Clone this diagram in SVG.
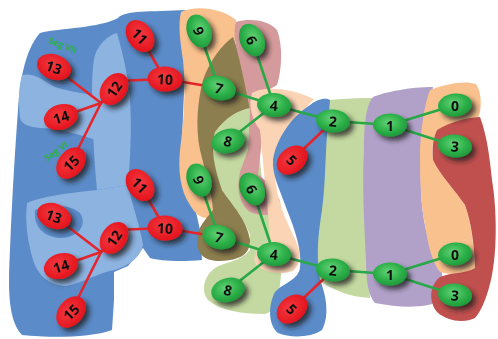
<svg xmlns="http://www.w3.org/2000/svg" width="498" height="339" viewBox="0 0 498 339">
  <defs>
    <radialGradient id="gGreen" cx="45%" cy="40%" r="60%">
      <stop offset="0" stop-color="#66d277"/>
      <stop offset="0.6" stop-color="#2fb24b"/>
      <stop offset="1" stop-color="#1f9a3b"/>
    </radialGradient>
    <radialGradient id="gRed" cx="45%" cy="40%" r="60%">
      <stop offset="0" stop-color="#f4393f"/>
      <stop offset="1" stop-color="#e3131c"/>
    </radialGradient>
    <filter id="shadow" x="-50%" y="-50%" width="220%" height="220%">
      <feGaussianBlur in="SourceAlpha" stdDeviation="2.6"/>
      <feOffset dx="4" dy="4" result="b"/>
      <feFlood flood-color="#1e1e1e" flood-opacity="0.75"/>
      <feComposite in2="b" operator="in"/>
      <feMerge><feMergeNode/><feMergeNode in="SourceGraphic"/></feMerge>
    </filter>
    <style>
      .red { fill: url(#gRed); }
      .grn { fill: url(#gGreen); }
      .node { filter: url(#shadow); }
      .lbl { font-family: "Open Sans", "Liberation Sans", sans-serif; font-weight: bold; font-size: 14px; fill: #111; text-anchor: middle; dominant-baseline: central; }
      .seg { font-family: "Open Sans", "Liberation Sans", sans-serif; font-weight: bold; font-size: 9px; fill: #2bb04a; text-anchor: middle; dominant-baseline: central; }
      .er { stroke: #e5252b; stroke-width: 2.6; fill: none; stroke-linecap: round; }
      .eg { stroke: #28a847; stroke-width: 2.6; fill: none; stroke-linecap: round; }
    </style>
  </defs>

  <rect width="498" height="339" fill="#ffffff"/>

  <!-- segment regions -->
  <g id="regions">
    <!-- blue lobe (left) -->
    <path fill="#5b8bc8" d="M40,33 C60,28 100,28 118,18 C125,10 150,12 186,10 L188,30 C186,60 183,100 182,150 L186,165 C190,190 196,210 200,230 L202,260 C180,262 160,261 150,258 L143,248 L128,266 L114,272 L114,300 L112,330 C90,338 50,338 22,335 C8,320 8,290 10,250 C12,200 15,150 18,110 C20,80 25,50 40,33 Z"/>
    <!-- lighter blue sub-regions -->
    <path fill="#8db3e1" d="M22,75 C35,72 45,82 55,87 C70,92 85,93 95,96 L96,140 C80,135 60,128 40,128 C30,127 22,125 20,118 C18,100 19,85 22,75 Z"/>
    <path fill="#8db3e1" d="M95,55 C98,45 108,35 117,33 C122,50 128,75 130,100 C132,130 130,160 128,185 L97,190 C94,160 92,120 92,90 C92,75 93,62 95,55 Z"/>
    <path fill="#8db3e1" d="M27,203 C45,195 80,192 97,190 L128,185 C132,205 140,225 143,245 C140,258 130,265 115,270 C100,272 85,282 67,286 C50,286 38,276 33,260 C27,240 25,220 27,203 Z"/>
    <path fill="#5b8bc8" d="M35,210 C50,203 72,205 80,213 C88,225 78,238 60,238 C45,237 33,228 35,210 Z"/>

    <!-- peach band -->
    <path fill="#f9c18d" d="M181,12 C195,5 222,8 236,20 L236,40 C220,55 205,80 200,100 C196,125 200,150 215,170 L220,212 C210,220 200,222 190,205 C180,190 178,170 180,150 C184,120 186,90 183,60 C180,40 178,25 181,12 Z"/>
    <!-- light green -->
    <path fill="#c4d9a1" d="M215,130 C225,115 240,108 252,107 L258,140 L262,180 L280,200 C285,230 283,260 280,285 C278,300 275,312 265,314 C240,314 220,310 208,300 C200,290 205,275 215,268 C225,262 240,262 250,250 L250,235 C245,220 232,205 222,190 C214,170 210,150 215,130 Z"/>
    <!-- olive -->
    <path fill="#8c7e4e" d="M233,37 C240,55 244,75 248,95 L250,108 C238,110 225,118 215,132 C210,150 215,170 222,190 C232,205 247,220 250,240 C250,255 240,260 220,261 C205,261 197,255 197,240 C197,228 205,220 213,210 C212,195 205,170 200,150 C195,125 198,100 203,80 C210,60 222,45 233,37 Z"/>
    <!-- pink -->
    <path fill="#d59a9b" d="M236,22 C250,18 268,20 277,30 C283,45 282,70 277,85 L265,92 L258,110 L262,140 L258,175 C265,180 278,190 280,205 C278,215 265,218 250,212 C240,205 236,190 240,172 L248,150 L250,110 C246,90 242,70 237,50 C234,38 234,28 236,22 Z"/>
    <!-- light peach -->
    <path fill="#fbd4b5" d="M252,93 C262,86 290,87 314,99 L302,112 C288,125 278,145 275,165 C274,190 281,210 293,235 C301,250 303,262 293,271 C280,275 262,273 255,263 C252,253 262,245 270,240 L267,200 C264,175 262,150 260,130 C252,120 248,105 252,93 Z"/>
    <!-- light green band -->
    <path fill="#c4d9a1" d="M312,103 C335,98 360,98 378,98 L368,130 L366,200 L370,298 C350,297 332,290 315,278 L318,200 Z"/>
    <!-- blue band -->
    <path fill="#5b8bc8" d="M310,105 C316,100 325,97 330,100 L328,125 C325,150 326,180 322,210 C318,235 316,255 320,280 C326,295 330,315 322,330 C310,338 290,338 278,333 C268,325 268,305 275,292 C285,282 298,280 300,268 C302,250 295,230 287,210 C280,190 272,175 273,160 C276,140 290,118 310,105 Z"/>
    <!-- purple -->
    <path fill="#b1a1c9" d="M373,97 C385,92 410,87 433,87 L427,120 C422,140 420,160 421,190 C422,220 428,245 440,265 C445,280 442,298 438,302 C425,308 400,308 375,303 C368,295 366,280 366,260 C364,220 362,180 364,150 C364,125 366,105 373,97 Z"/>
    <!-- peach right -->
    <path fill="#f9c18d" d="M430,90 C445,84 465,80 476,84 C482,92 482,110 478,118 L460,122 L437,130 C432,140 432,150 433,160 C440,175 455,190 465,205 C472,225 474,250 475,268 C465,275 450,275 440,272 C432,262 428,245 425,225 C420,200 420,170 420,150 C421,130 424,105 430,90 Z"/>
    <!-- dark red -->
    <path fill="#c0504e" d="M437,130 C450,122 465,118 480,117 C487,135 490,160 492,180 C497,210 497,250 492,275 C488,295 482,310 475,318 C465,323 448,322 437,312 C428,300 430,285 440,277 C452,272 465,274 475,268 C474,245 472,225 465,205 C455,190 440,175 433,160 C432,148 433,138 437,130 Z"/>

    <text class="seg" transform="translate(63,45) rotate(22)">Seg VII</text>
    <text class="seg" transform="translate(56,151) rotate(-35)">Seg VI</text>
  </g>

  <!-- connectors -->
  <g id="connectors">
    <!-- upper tree -->
    <line class="er" x1="165" y1="79" x2="140" y2="36"/>
    <line class="er" x1="165" y1="79" x2="116" y2="81"/>
    <line class="er" x1="101" y1="103" x2="54" y2="67"/>
    <line class="er" x1="101" y1="103" x2="61" y2="117"/>
    <line class="er" x1="101" y1="103" x2="71" y2="163"/>
    <line class="er" x1="101" y1="103" x2="114" y2="89"/>
    <line class="er" x1="165" y1="79" x2="219" y2="88"/>
    <line class="eg" x1="219" y1="88" x2="199" y2="31"/>
    <line class="eg" x1="219" y1="88" x2="274" y2="105"/>
    <line class="eg" x1="274" y1="105" x2="252" y2="40"/>
    <line class="eg" x1="274" y1="105" x2="228" y2="141"/>
    <line class="eg" x1="274" y1="105" x2="333" y2="121"/>
    <line class="er" x1="333" y1="121" x2="292" y2="160"/>
    <line class="eg" x1="333" y1="121" x2="390" y2="125"/>
    <line class="eg" x1="390" y1="125" x2="455" y2="105"/>
    <line class="eg" x1="390" y1="125" x2="455" y2="146"/>
    <!-- lower tree -->
    <line class="er" x1="165" y1="228" x2="140" y2="185"/>
    <line class="er" x1="165" y1="228" x2="116" y2="230"/>
    <line class="er" x1="101" y1="252" x2="54" y2="216"/>
    <line class="er" x1="101" y1="252" x2="61" y2="266"/>
    <line class="er" x1="101" y1="252" x2="71" y2="312"/>
    <line class="er" x1="101" y1="252" x2="114" y2="238"/>
    <line class="er" x1="165" y1="228" x2="219" y2="237"/>
    <line class="eg" x1="219" y1="237" x2="199" y2="180"/>
    <line class="eg" x1="219" y1="237" x2="274" y2="254"/>
    <line class="eg" x1="274" y1="254" x2="252" y2="189"/>
    <line class="eg" x1="274" y1="254" x2="228" y2="290"/>
    <line class="eg" x1="274" y1="254" x2="333" y2="270"/>
    <line class="er" x1="333" y1="270" x2="292" y2="309"/>
    <line class="eg" x1="333" y1="270" x2="390" y2="274"/>
    <line class="eg" x1="390" y1="274" x2="455" y2="254"/>
    <line class="eg" x1="390" y1="274" x2="455" y2="295"/>
  </g>

  <!-- upper tree nodes -->
  <g id="a11" class="node" transform="translate(140,36)"><ellipse class="red" rx="17.5" ry="12.5" transform="rotate(55)"/><text class="lbl" transform="rotate(45)">11</text></g>
  <g id="a13" class="node" transform="translate(54,67)"><ellipse class="red" rx="17.5" ry="12.5" transform="rotate(20)"/><text class="lbl" transform="rotate(20)">13</text></g>
  <g id="a12" class="node" transform="translate(114,89)"><ellipse class="red" rx="17.5" ry="12.5" transform="rotate(-55)"/><text class="lbl" transform="rotate(-55)">12</text></g>
  <g id="a10" class="node" transform="translate(165,79)"><ellipse class="red" rx="17.5" ry="12.5" transform="rotate(3)"/><text class="lbl" transform="rotate(3)">10</text></g>
  <g id="a14" class="node" transform="translate(61,117)"><ellipse class="red" rx="17.5" ry="12.5" transform="rotate(-18)"/><text class="lbl" transform="rotate(-18)">14</text></g>
  <g id="a15" class="node" transform="translate(71,163)"><ellipse class="red" rx="17.5" ry="12.5" transform="rotate(-50)"/><text class="lbl" transform="rotate(-45)">15</text></g>
  <g id="a9" class="node" transform="translate(199,31)"><ellipse class="grn" rx="17" ry="12" transform="rotate(70)"/><text class="lbl" transform="rotate(70)">9</text></g>
  <g id="a6" class="node" transform="translate(252,40)"><ellipse class="grn" rx="17" ry="12" transform="rotate(65)"/><text class="lbl" transform="rotate(65)">6</text></g>
  <g id="a7" class="node" transform="translate(219,88)"><ellipse class="grn" rx="17" ry="12" transform="rotate(15)"/><text class="lbl" transform="rotate(15)">7</text></g>
  <g id="a4" class="node" transform="translate(274,105)"><ellipse class="grn" rx="17" ry="12" transform="rotate(5)"/><text class="lbl" transform="rotate(5)">4</text></g>
  <g id="a8" class="node" transform="translate(228,141)"><ellipse class="grn" rx="17" ry="12" transform="rotate(-15)"/><text class="lbl" transform="rotate(15)">8</text></g>
  <g id="a5" class="node" transform="translate(292,160)"><ellipse class="red" rx="17" ry="12.5" transform="rotate(-40)"/><text class="lbl" transform="rotate(45)">5</text></g>
  <g id="a2" class="node" transform="translate(333,121)"><ellipse class="grn" rx="17" ry="11.5" transform="rotate(5)"/><text class="lbl" transform="rotate(5)">2</text></g>
  <g id="a1" class="node" transform="translate(390,125)"><ellipse class="grn" rx="17" ry="11.5"/><text class="lbl">1</text></g>
  <g id="a0" class="node" transform="translate(455,105)"><ellipse class="grn" rx="17" ry="11.5" transform="rotate(-5)"/><text class="lbl">0</text></g>
  <g id="a3" class="node" transform="translate(455,146)"><ellipse class="grn" rx="17" ry="11.5" transform="rotate(5)"/><text class="lbl" transform="rotate(5)">3</text></g>

  <!-- lower tree nodes -->
  <g id="b11" class="node" transform="translate(140,185)"><ellipse class="red" rx="17.5" ry="12.5" transform="rotate(55)"/><text class="lbl" transform="rotate(45)">11</text></g>
  <g id="b13" class="node" transform="translate(54,216)"><ellipse class="red" rx="17.5" ry="12.5" transform="rotate(20)"/><text class="lbl" transform="rotate(20)">13</text></g>
  <g id="b12" class="node" transform="translate(114,238)"><ellipse class="red" rx="17.5" ry="12.5" transform="rotate(-55)"/><text class="lbl" transform="rotate(-55)">12</text></g>
  <g id="b10" class="node" transform="translate(165,228)"><ellipse class="red" rx="17.5" ry="12.5" transform="rotate(3)"/><text class="lbl" transform="rotate(3)">10</text></g>
  <g id="b14" class="node" transform="translate(61,266)"><ellipse class="red" rx="17.5" ry="12.5" transform="rotate(-18)"/><text class="lbl" transform="rotate(-18)">14</text></g>
  <g id="b15" class="node" transform="translate(71,312)"><ellipse class="red" rx="17.5" ry="12.5" transform="rotate(-50)"/><text class="lbl" transform="rotate(-45)">15</text></g>
  <g id="b9" class="node" transform="translate(199,180)"><ellipse class="grn" rx="17" ry="12" transform="rotate(70)"/><text class="lbl" transform="rotate(70)">9</text></g>
  <g id="b6" class="node" transform="translate(252,189)"><ellipse class="grn" rx="17" ry="12" transform="rotate(65)"/><text class="lbl" transform="rotate(65)">6</text></g>
  <g id="b7" class="node" transform="translate(219,237)"><ellipse class="grn" rx="17" ry="12" transform="rotate(15)"/><text class="lbl" transform="rotate(15)">7</text></g>
  <g id="b4" class="node" transform="translate(274,254)"><ellipse class="grn" rx="17" ry="12" transform="rotate(5)"/><text class="lbl" transform="rotate(5)">4</text></g>
  <g id="b8" class="node" transform="translate(228,290)"><ellipse class="grn" rx="17" ry="12" transform="rotate(-15)"/><text class="lbl" transform="rotate(15)">8</text></g>
  <g id="b5" class="node" transform="translate(292,309)"><ellipse class="red" rx="17" ry="12.5" transform="rotate(-40)"/><text class="lbl" transform="rotate(45)">5</text></g>
  <g id="b2" class="node" transform="translate(333,270)"><ellipse class="grn" rx="17" ry="11.5" transform="rotate(5)"/><text class="lbl" transform="rotate(5)">2</text></g>
  <g id="b1" class="node" transform="translate(390,274)"><ellipse class="grn" rx="17" ry="11.5"/><text class="lbl">1</text></g>
  <g id="b0" class="node" transform="translate(455,254)"><ellipse class="grn" rx="17" ry="11.5" transform="rotate(-5)"/><text class="lbl">0</text></g>
  <g id="b3" class="node" transform="translate(455,295)"><ellipse class="grn" rx="17" ry="11.5" transform="rotate(5)"/><text class="lbl" transform="rotate(5)">3</text></g>
</svg>
